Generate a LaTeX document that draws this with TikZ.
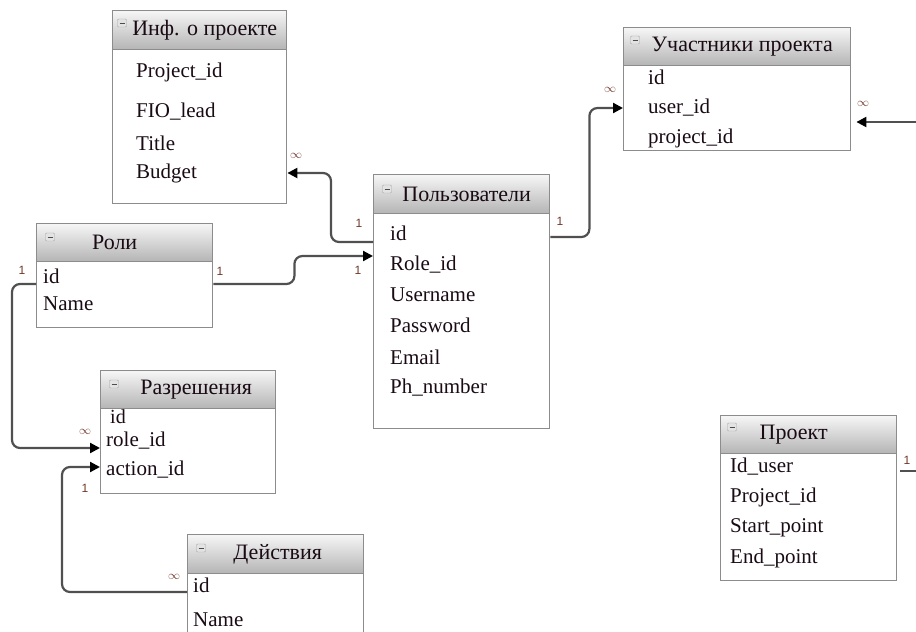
\documentclass[tikz,border=0pt]{standalone}
\usepackage{fontspec}
\setmainfont{Liberation Serif}
\newfontfamily\cardfont{Liberation Sans}
\usetikzlibrary{arrows.meta,calc}

\definecolor{linkgray}{RGB}{80,80,80}
\definecolor{framegray}{RGB}{140,140,140}
\definecolor{headtop}{RGB}{246,246,246}
\definecolor{headbot}{RGB}{180,180,180}
\definecolor{txt}{RGB}{25,10,20}
\definecolor{cardcol}{RGB}{115,55,40}

\tikzset{
  tbody/.style={draw=framegray, line width=1.4pt, fill=white, anchor=north west, inner sep=0pt},
  thead/.style={draw=framegray, line width=1.4pt, top color=headtop, bottom color=headbot,
    anchor=north west, inner sep=0pt, font=\fontsize{22}{24}\selectfont, text=txt},
  tbicon/.style={draw=gray!70, fill=gray!22, rounded corners=1pt, minimum width=9pt,
    minimum height=8pt, inner sep=0pt,
    path picture={\draw[gray!60!black, line width=0.9pt]
      ([xshift=2pt]path picture bounding box.west) -- ([xshift=-2pt]path picture bounding box.east);}},
  field/.style={anchor=west, inner sep=0pt, font=\fontsize{21}{24}\selectfont, text=txt},
  link/.style={draw=linkgray, line width=2.2pt, rounded corners=8pt},
  tip/.style={-{Triangle[length=10pt,width=10pt,color=black]}},
  card/.style={inner sep=0pt, font=\cardfont\fontsize{12}{14}\selectfont, text=cardcol},
  many/.style={inner sep=0pt, font=\fontsize{13}{14}\selectfont, text=cardcol},
}

\begin{document}
\begin{tikzpicture}[x=1pt,y=-1pt]
\useasboundingbox (0,0) rectangle (916,632);
\clip (0,0) rectangle (916,632);

% ---- Инф. о проекте
\node[tbody, minimum width=174pt, minimum height=193pt] (info) at (112,10) {};
\node[thead, minimum width=174pt, minimum height=39pt] (infoH) at (info.north west) {\hspace*{10pt}Инф. о проекте};
\node[tbicon] (infoI) at ($(info.north west)+(10,13)$) {};
\node[field] (infoPid) at (136,72) {Project\_id};
\node[field] (infoFio) at (136,112) {FIO\_lead};
\node[field] (infoTitle) at (136,143) {Title};
\node[field] (infoBudget) at (136,173) {Budget};

% ---- Участники проекта
\node[tbody, minimum width=227pt, minimum height=123pt] (part) at (623,27) {};
\node[thead, minimum width=227pt, minimum height=38pt] (partH) at (part.north west) {\hspace*{10pt}Участники проекта};
\node[tbicon] (partI) at ($(part.north west)+(12,13)$) {};
\node[field] (partId) at (648,77) {id};
\node[field] (partUser) at (648,108) {user\_id};
\node[field] (partProj) at (648,138) {project\_id};

% ---- Пользователи
\node[tbody, minimum width=176pt, minimum height=254pt] (users) at (373,174) {};
\node[thead, minimum width=176pt, minimum height=39pt] (usersH) at (users.north west) {\hspace*{10pt}Пользователи};
\node[tbicon] (usersI) at ($(users.north west)+(14,15)$) {};
\node[field] (usersId) at (390,233) {id};
\node[field] (usersRole) at (390,265) {Role\_id};
\node[field] (usersName) at (390,295) {Username};
\node[field] (usersPass) at (390,325) {Password};
\node[field] (usersMail) at (390,357) {Email};
\node[field] (usersPhone) at (390,388) {Ph\_number};

% ---- Роли
\node[tbody, minimum width=176pt, minimum height=104pt] (roles) at (36,223) {};
\node[thead, minimum width=176pt, minimum height=38pt] (rolesH) at (roles.north west) {Роли\hspace*{20pt}};
\node[tbicon] (rolesI) at ($(roles.north west)+(14,14)$) {};
\node[field] (rolesId) at (43,276) {id};
\node[field] (rolesName) at (43,304) {Name};

% ---- Разрешения
\node[tbody, minimum width=175pt, minimum height=123pt] (perm) at (100,370) {};
\node[thead, minimum width=175pt, minimum height=38pt] (permH) at (perm.north west) {\hspace*{16pt}Разрешения};
\node[tbicon] (permI) at ($(perm.north west)+(14,14)$) {};
\node[field, font=\fontsize{20}{22}\selectfont] (permId) at (110,417) {id};
\node[field] (permRole) at (106,441) {role\_id};
\node[field] (permAction) at (106,470) {action\_id};

% ---- Действия
\node[tbody, minimum width=176pt, minimum height=120pt] (act) at (187,534) {};
\node[thead, minimum width=176pt, minimum height=39pt] (actH) at (act.north west) {\hspace*{4pt}Действия};
\node[tbicon] (actI) at ($(act.north west)+(14,14)$) {};
\node[field] (actId) at (193,585) {id};
\node[field] (actName) at (193,620) {Name};

% ---- Проект
\node[tbody, minimum width=176pt, minimum height=165pt] (proj) at (720,415) {};
\node[thead, minimum width=176pt, minimum height=38pt] (projH) at (proj.north west) {Проект\hspace*{30pt}};
\node[tbicon] (projI) at ($(proj.north west)+(12,12)$) {};
\node[field] (projUser) at (730,467) {Id\_user};
\node[field] (projPid) at (730,497) {Project\_id};
\node[field] (projStart) at (730,528) {Start\_point};
\node[field] (projEnd) at (730,558) {End\_point};

% ---- free ends at the right margin
\coordinate (edgeA) at (916,122);
\coordinate (edgeB) at (916,471);

% ---- relations
\draw[link,tip] ($(users.west|-usersId)+(0,9)$) -- ++(-42,0) |- (info.east|-infoBudget);
\draw[link,tip] ($(roles.east|-rolesId)+(0,8)$) -- ++(81,0) |- ($(users.west|-usersRole)+(0,-9)$);
\draw[link,tip] ($(users.east|-usersId)+(0,4)$) -- ++(39,0) |- (part.west|-partUser);
\draw[link,tip] (edgeA) -- ($(part.east|-edgeA)+(5,0)$);
\draw[link,tip] ($(roles.west|-rolesId)+(0,8)$) -- ++(-24,0) |- ($(perm.west|-permRole)+(0,7)$);
\draw[link,tip] ($(act.west|-actId)+(0,7)$) -- ++(-125,0) |- ($(perm.west|-permAction)+(0,-3)$);
\draw[link] ($(proj.east|-edgeB)+(3,0)$) -- (edgeB);

% ---- cardinalities
\node[many] (m1) at (296,156) {$\infty$};
\node[card] (o1) at (359,223) {1};
\node[card] (o2) at (220,271) {1};
\node[card] (o3) at (358,270) {1};
\node[card] (o4) at (560,221) {1};
\node[many] (m2) at (610,90) {$\infty$};
\node[many] (m3) at (863,104) {$\infty$};
\node[card] (o5) at (22,270) {1};
\node[many] (m4) at (85,432) {$\infty$};
\node[card] (o6) at (85,488) {1};
\node[many] (m5) at (174,577) {$\infty$};
\node[card] (o7) at (907,460) {1};
\end{tikzpicture}
\end{document}
